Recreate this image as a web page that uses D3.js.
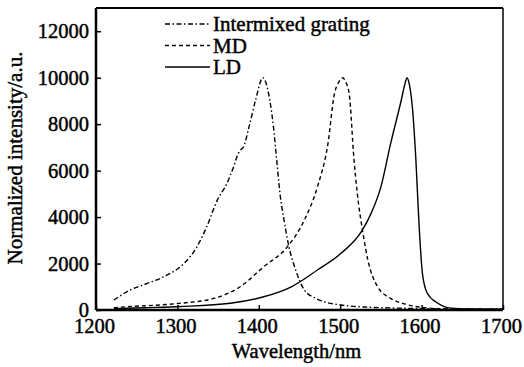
<!DOCTYPE html>
<html>
<head>
<meta charset="utf-8">
<script src="https://cdn.jsdelivr.net/npm/d3@7"></script>
<style>
  body { margin: 0; background: #fff; }
  text { font-family: "Liberation Serif", "Times New Roman", serif; fill: #000; stroke: #000; stroke-width: 0.45px; }
</style>
</head>
<body>
<div id="chart"></div>
<script>
// Spectra data (wavelength nm / normalized intensity)
var intermixedWl  = [1222, 1242, 1262, 1283, 1308, 1324, 1336, 1349, 1361, 1369, 1375, 1378, 1381, 1388, 1396, 1405, 1412, 1418, 1422, 1426, 1431, 1437, 1444, 1456, 1470, 1480, 1501, 1530, 1560, 1600, 1650, 1700];
var intermixedVal = [430, 860, 1130, 1430, 2000, 2720, 3580, 4730, 5460, 6160, 6750, 6900, 7010, 7880, 9030, 10000, 9320, 7880, 6450, 5020, 3870, 2720, 1860, 860, 500, 360, 215, 130, 90, 60, 40, 30];

var mdWl  = [1222, 1242, 1270, 1304, 1345, 1377, 1406, 1435, 1456, 1472, 1485, 1493, 1498, 1503, 1507, 1511, 1517, 1521, 1528, 1534, 1546, 1562, 1580, 1595, 1620, 1660, 1700];
var mdVal = [100, 150, 200, 290, 500, 1000, 1860, 2720, 3870, 5300, 7170, 9320, 9800, 10000, 9800, 9320, 6450, 5020, 3300, 2150, 1000, 500, 250, 140, 60, 30, 20];

var ldWl  = [1222, 1260, 1304, 1365, 1406, 1440, 1472, 1501, 1526, 1538, 1550, 1562, 1575, 1580, 1582, 1585, 1589, 1593, 1597, 1601, 1607, 1620, 1636, 1660, 1700];
var ldVal = [60, 100, 150, 290, 570, 1000, 1720, 2440, 3370, 4160, 5300, 7170, 9030, 9800, 10000, 9700, 8600, 6450, 3580, 1580, 720, 290, 80, 40, 30];

var seriesNames = ["Intermixed grating", "MD", "LD"];
var xTicks = [1200, 1300, 1400, 1500, 1600, 1700];
var yTicks = [0, 2000, 4000, 6000, 8000, 10000, 12000];

var series = [
    { name: seriesNames[0], wl: intermixedWl, val: intermixedVal, dash: "5,2.5,1.5,2.5" },
    { name: seriesNames[1], wl: mdWl, val: mdVal, dash: "4,3" },
    { name: seriesNames[2], wl: ldWl, val: ldVal, dash: null }
];

var margin = { top: 8, right: 21, bottom: 57, left: 96 };
var totalW = 524, totalH = 367;
var width = totalW - margin.left - margin.right,
    height = totalH - margin.top - margin.bottom;

var svg = d3.select('#chart')
    .append('svg')
    .attr('width', totalW)
    .attr('height', totalH)
    .append('g')
    .attr('transform', 'translate(' + margin.left + ',' + margin.top + ')');

var x = d3.scaleLinear().domain([1200, 1700]).range([0, width]);
var y = d3.scaleLinear().domain([0, 13000]).range([height, 0]);

// Axes, ticks pointing inward
var xAxis = d3.axisBottom(x).tickValues(xTicks).tickSizeInner(-5).tickSizeOuter(0).tickPadding(8).tickFormat(d3.format('d'));
var yAxis = d3.axisLeft(y).tickValues(yTicks).tickSizeInner(-5).tickSizeOuter(0).tickPadding(7).tickFormat(d3.format('d'));

var gx = svg.append('g')
    .attr('transform', 'translate(0,' + height + ')')
    .call(xAxis);
var gy = svg.append('g').call(yAxis);

[gx, gy].forEach(function(g) {
    g.select('.domain').remove();
    g.selectAll('.tick line').attr('stroke', '#000').attr('stroke-width', 1.5);
    g.selectAll('.tick text').attr('font-size', '20.5px');
});
gx.selectAll('.tick text').attr('dy', '0.71em').attr('dx', -2);

// Frame
svg.append('line').attr('x1', 0).attr('x2', width).attr('y1', height).attr('y2', height)
    .attr('stroke', '#000').attr('stroke-width', 2.5);
svg.append('line').attr('x1', 0).attr('x2', 0).attr('y1', 0).attr('y2', height)
    .attr('stroke', '#000').attr('stroke-width', 2.5);
svg.append('line').attr('x1', 0).attr('x2', width).attr('y1', 0).attr('y2', 0)
    .attr('stroke', '#000').attr('stroke-width', 2);
svg.append('line').attr('x1', width).attr('x2', width).attr('y1', 0).attr('y2', height)
    .attr('stroke', '#000').attr('stroke-width', 1.5);

// Curves
var line = d3.line()
    .x(function(d) { return x(d[0]); })
    .y(function(d) { return y(d[1]); })
    .curve(d3.curveMonotoneX);

series.forEach(function(s) {
    var pts = s.wl.map(function(w, i) { return [w, s.val[i]]; });
    svg.append('path')
        .datum(pts)
        .attr('fill', 'none')
        .attr('stroke', '#000')
        .attr('stroke-width', 1.4)
        .attr('stroke-dasharray', s.dash)
        .attr('d', line);
});

// Legend
var legend = svg.append('g').attr('transform', 'translate(69,16)');
series.forEach(function(s, i) {
    var row = legend.append('g').attr('transform', 'translate(0,' + (i * 21.5) + ')');
    row.append('line')
        .attr('x1', 0).attr('x2', 45).attr('y1', 0).attr('y2', 0)
        .attr('stroke', '#000').attr('stroke-width', 1.4)
        .attr('stroke-dasharray', s.dash);
    row.append('text')
        .attr('x', 48).attr('y', 0).attr('dy', '0.35em')
        .attr('font-size', '21px')
        .text(s.name);
});

// Axis titles
svg.append('text')
    .attr('x', width / 2 - 3)
    .attr('y', height + 48)
    .attr('font-size', '20.5px')
    .attr('text-anchor', 'middle')
    .text('Wavelength/nm');

svg.append('text')
    .attr('transform', 'rotate(-90)')
    .attr('x', -150)
    .attr('y', -74)
    .attr('font-size', '21px')
    .attr('text-anchor', 'middle')
    .text('Normalized intensity/a.u.');
</script>
</body>
</html>
